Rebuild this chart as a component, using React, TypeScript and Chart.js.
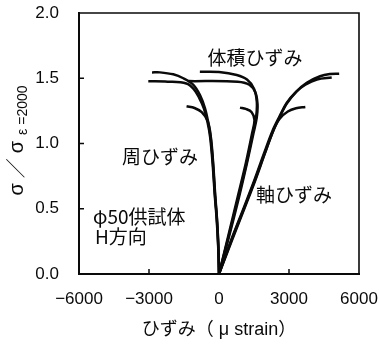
import React, { useEffect, useRef } from "react";
import { Chart, registerables } from "chart.js";

Chart.register(...registerables);

// Axis ticks
const xTicks = [-6000, -3000, 0, 3000, 6000];
const yTicks = [0, 0.5, 1.0, 1.5, 2.0];

// Axial strain (με) vs normalised stress, three specimens
const axial1: [number, number][] = [
  [0, 0], [540, 0.26], [1110, 0.52], [1540, 0.72], [1950, 0.92], [2330, 1.1],
  [2620, 1.21], [2920, 1.31], [3330, 1.4], [3760, 1.465], [4330, 1.515], [4750, 1.532], [5150, 1.535],
];
const axial2: [number, number][] = [
  [0, 0], [520, 0.26], [1090, 0.52], [1520, 0.72], [1920, 0.92], [2300, 1.1],
  [2600, 1.21], [2900, 1.31], [3300, 1.395], [3700, 1.45], [4200, 1.49], [4830, 1.505],
];
const axial3: [number, number][] = [
  [0, 0], [560, 0.26], [1130, 0.52], [1560, 0.72], [1960, 0.92], [2330, 1.1],
  [2600, 1.19], [2950, 1.245], [3300, 1.27], [3700, 1.28],
];

// Circumferential strain
const circ1: [number, number][] = [
  [0, 0], [-30, 0.21], [-90, 0.42], [-170, 0.6], [-260, 0.85], [-360, 1.05],
  [-460, 1.16], [-600, 1.27], [-810, 1.37], [-1100, 1.45], [-1530, 1.5],
  [-1960, 1.53], [-2530, 1.545], [-2870, 1.545],
];
const circ2: [number, number][] = [
  [0, 0], [-35, 0.21], [-100, 0.42], [-180, 0.6], [-275, 0.85], [-380, 1.05],
  [-500, 1.17], [-650, 1.27], [-850, 1.35], [-1100, 1.42], [-1400, 1.46],
  [-2200, 1.474], [-3030, 1.477],
];
const circ3: [number, number][] = [
  [0, 0], [-25, 0.21], [-85, 0.42], [-160, 0.6], [-250, 0.85], [-350, 1.05],
  [-480, 1.17], [-740, 1.24], [-1050, 1.272], [-1390, 1.285],
];

// Volumetric strain
const vol1: [number, number][] = [
  [0, 0], [400, 0.28], [830, 0.59], [1180, 0.85], [1450, 1.08], [1590, 1.2],
  [1620, 1.32], [1500, 1.42], [1200, 1.49], [760, 1.525], [0, 1.548], [-820, 1.55],
];
const vol2: [number, number][] = [
  [0, 0], [420, 0.28], [860, 0.59], [1200, 0.85], [1480, 1.08], [1620, 1.2],
  [1650, 1.3], [1560, 1.39], [1300, 1.45], [800, 1.474], [-1300, 1.478],
];
const vol3: [number, number][] = [
  [0, 0], [380, 0.28], [800, 0.59], [1150, 0.85], [1420, 1.08], [1520, 1.18],
  [1400, 1.24], [1150, 1.265], [900, 1.275],
];

const curves = [axial1, axial2, axial3, circ1, circ2, circ3, vol1, vol2, vol3];

// In-plot labels, anchored in data units
const notes: { text: string; x: number; y: number; align: CanvasTextAlign }[] = [
  { text: "体積ひずみ", x: 1543, y: 1.66, align: "center" },
  { text: "周ひずみ", x: -2529, y: 0.897, align: "center" },
  { text: "軸ひずみ", x: 3214, y: 0.606, align: "center" },
  { text: "φ50供試体", x: -5400, y: 0.437, align: "left" },
  { text: "H方向", x: -5314, y: 0.284, align: "left" },
];

const LATIN = '"Liberation Sans", Arial, sans-serif';
const CJK = '"Noto Sans CJK JP", sans-serif';
const INK = "rgb(10,10,10)";

const framePlugin = {
  id: "plotFrame",
  afterDatasetsDraw(chart: any) {
    const ctx: CanvasRenderingContext2D = chart.ctx;
    const a = chart.chartArea;
    const sx = chart.scales.x;
    const sy = chart.scales.y;
    ctx.save();
    ctx.strokeStyle = INK;

    // top and right edges of the frame (left/bottom are the axis borders)
    ctx.lineWidth = 1.6;
    ctx.beginPath();
    ctx.moveTo(a.left, a.top);
    ctx.lineTo(a.right, a.top);
    ctx.lineTo(a.right, a.bottom);
    ctx.stroke();

    // inward tick marks
    ctx.lineWidth = 1.5;
    ctx.beginPath();
    for (const v of xTicks.slice(1, -1)) {
      const px = sx.getPixelForValue(v);
      ctx.moveTo(px, a.bottom);
      ctx.lineTo(px, a.bottom - 5);
    }
    for (const v of yTicks.slice(1, -1)) {
      const py = sy.getPixelForValue(v);
      ctx.moveTo(a.left, py);
      ctx.lineTo(a.left + 5, py);
    }
    ctx.stroke();

    // labels inside the plot
    ctx.fillStyle = INK;
    ctx.textBaseline = "middle";
    ctx.font = `19px ${CJK}`;
    for (const n of notes) {
      ctx.textAlign = n.align;
      ctx.fillText(n.text, sx.getPixelForValue(n.x), sy.getPixelForValue(n.y));
    }

    // rotated y title: σ／σ with subscript ε=2000
    const parts = [
      { t: "σ", font: `20px ${LATIN}`, dy: 0, gap: 5 },
      { t: "／", font: `20px ${CJK}`, dy: 0, gap: 5 },
      { t: "σ", font: `20px ${LATIN}`, dy: 0, gap: 6 },
      { t: "ε", font: `14px ${LATIN}`, dy: 4, gap: 4 },
      { t: "=2000", font: `14px ${LATIN}`, dy: 4, gap: 0 },
    ];
    let total = 0;
    for (const p of parts) {
      ctx.font = p.font;
      total += ctx.measureText(p.t).width + p.gap;
    }
    const cy = (a.top + a.bottom) / 2 - 3;
    ctx.translate(a.left - 56, cy + total / 2);
    ctx.rotate(-Math.PI / 2);
    ctx.textAlign = "left";
    ctx.textBaseline = "alphabetic";
    let x = 0;
    for (const p of parts) {
      ctx.font = p.font;
      ctx.fillText(p.t, x, p.dy);
      x += ctx.measureText(p.t).width + p.gap;
    }
    ctx.restore();
  },
};

export default function App() {
  const ref = useRef<HTMLCanvasElement | null>(null);

  useEffect(() => {
    if (!ref.current) return;
    const chart = new Chart(ref.current, {
      type: "scatter",
      data: {
        datasets: curves.map((c) => ({
          data: c.map(([x, y]) => ({ x, y })),
          showLine: true,
          borderColor: INK,
          borderWidth: 2.5,
          pointRadius: 0,
          tension: 0.35,
        })),
      },
      options: {
        responsive: false,
        animation: false,
        layout: { padding: { top: 13, right: 20, left: 0, bottom: 0 } },
        plugins: { legend: { display: false }, tooltip: { enabled: false } },
        scales: {
          x: {
            type: "linear",
            min: -6000,
            max: 6000,
            afterBuildTicks: (s: any) => {
              s.ticks = xTicks.map((value) => ({ value }));
            },
            afterFit: (s: any) => {
              s.height = 71;
              s.paddingLeft = 0;
              s.paddingRight = 0;
            },
            grid: { display: false, drawTicks: false },
            border: { display: true, color: INK, width: 2 },
            ticks: {
              color: INK,
              padding: 15,
              font: { family: LATIN, size: 17 },
              callback: (v: any) => (v < 0 ? "−" + Math.abs(v) : String(v)),
            },
            title: {
              display: true,
              text: "ひずみ（ μ strain）",
              color: INK,
              font: { family: `"Liberation Sans", "Noto Sans CJK JP", sans-serif`, size: 18 },
              padding: { top: 0, bottom: 4 },
            },
          },
          y: {
            type: "linear",
            min: 0,
            max: 2,
            afterBuildTicks: (s: any) => {
              s.ticks = yTicks.map((value) => ({ value }));
            },
            afterFit: (s: any) => {
              s.width = 79;
              s.paddingTop = 0;
              s.paddingBottom = 0;
            },
            grid: { display: false, drawTicks: false },
            border: { display: true, color: INK, width: 2 },
            ticks: {
              color: INK,
              padding: 20,
              font: { family: LATIN, size: 17 },
              callback: (v: any) => Number(v).toFixed(1),
            },
          },
        },
      },
      plugins: [framePlugin],
    });
    return () => chart.destroy();
  }, []);

  return (
    <div style={{ position: "fixed", left: 0, top: 0, width: 379, height: 345, background: "#fff" }}>
      <canvas ref={ref} width={379} height={345} />
    </div>
  );
}
